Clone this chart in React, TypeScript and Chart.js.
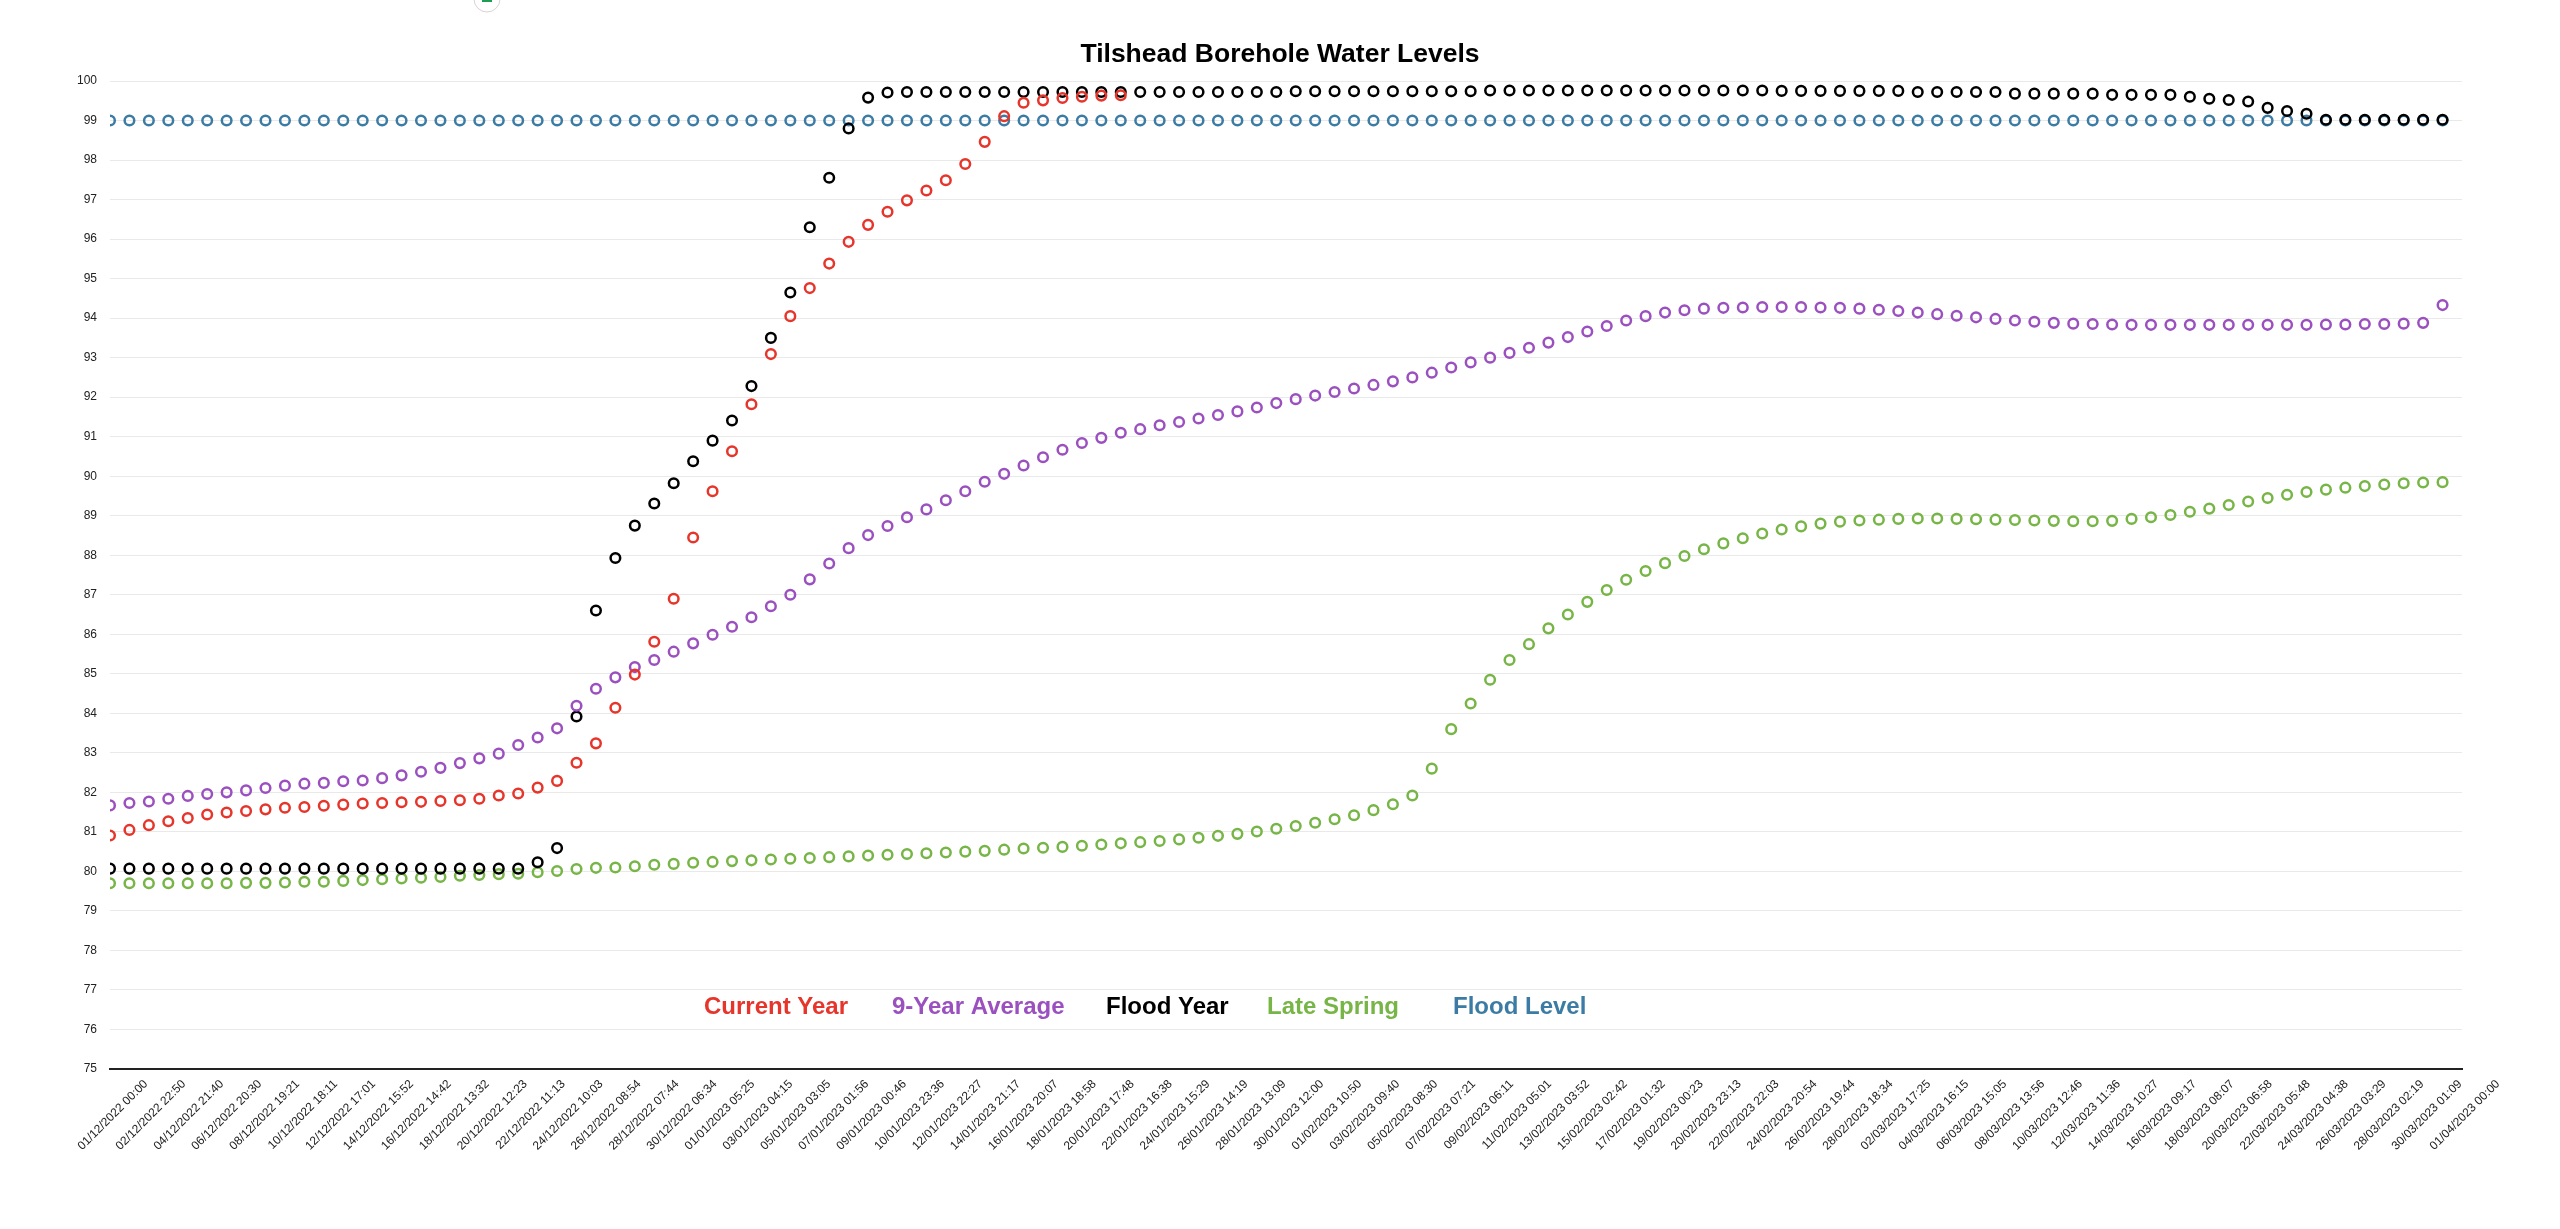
import { useEffect, useRef } from 'react';
import { Chart, registerables } from 'chart.js';

Chart.register(...registerables);

const chartTitle = 'Tilshead Borehole Water Levels';
const seriesNames = ['Current Year', '9-Year Average', 'Flood Year', 'Late Spring', 'Flood Level'];
const seriesColors = ['#e6352b', '#9b50bf', '#000000', '#77b546', '#3c7ca4'];

// one value per day, starting 01/12/2022
const currentYear = [
  80.91, 81.05, 81.17, 81.27, 81.35, 81.44, 81.49, 81.53, 81.57, 81.61,
  81.63, 81.66, 81.69, 81.72, 81.73, 81.75, 81.76, 81.78, 81.80, 81.84,
  81.92, 81.97, 82.12, 82.29, 82.75, 83.24, 84.14, 84.98, 85.81, 86.90,
  88.45, 89.62, 90.63, 91.82, 93.09, 94.05, 94.76, 95.38, 95.93, 96.36,
  96.69, 96.98, 97.23, 97.49, 97.90, 98.46, 99.11, 99.45, 99.51, 99.57,
  99.60, 99.63, 99.64,
];

const nineYearAverage = [
  81.67, 81.73, 81.77, 81.84, 81.91, 81.96, 82.00, 82.05, 82.11, 82.17,
  82.22, 82.24, 82.28, 82.30, 82.36, 82.43, 82.52, 82.62, 82.74, 82.86,
  82.98, 83.20, 83.39, 83.62, 84.19, 84.62, 84.91, 85.17, 85.35, 85.56,
  85.77, 85.99, 86.19, 86.43, 86.71, 87.00, 87.39, 87.79, 88.18, 88.51,
  88.74, 88.96, 89.16, 89.39, 89.62, 89.86, 90.06, 90.27, 90.48, 90.67,
  90.84, 90.97, 91.10, 91.19, 91.29, 91.37, 91.46, 91.55, 91.64, 91.74,
  91.85, 91.95, 92.04, 92.13, 92.22, 92.31, 92.40, 92.50, 92.62, 92.75,
  92.88, 93.00, 93.12, 93.25, 93.38, 93.52, 93.66, 93.80, 93.94, 94.05,
  94.14, 94.20, 94.24, 94.26, 94.27, 94.28, 94.28, 94.28, 94.27, 94.26,
  94.24, 94.21, 94.18, 94.14, 94.10, 94.06, 94.02, 93.98, 93.94, 93.91,
  93.88, 93.86, 93.85, 93.84, 93.83, 93.83, 93.83, 93.83, 93.83, 93.83,
  93.83, 93.83, 93.83, 93.83, 93.84, 93.84, 93.85, 93.85, 93.86, 93.88,
  94.33,
];

const floodYear = [
  80.07, 80.07, 80.07, 80.07, 80.07, 80.07, 80.07, 80.07, 80.07, 80.07,
  80.07, 80.07, 80.07, 80.07, 80.07, 80.07, 80.07, 80.07, 80.07, 80.07,
  80.07, 80.07, 80.23, 80.59, 83.92, 86.60, 87.93, 88.75, 89.31, 89.82,
  90.38, 90.90, 91.41, 92.28, 93.50, 94.65, 96.30, 97.55, 98.80, 99.58,
  99.71, 99.72, 99.72, 99.72, 99.72, 99.72, 99.72, 99.72, 99.72, 99.72,
  99.72, 99.72, 99.72, 99.72, 99.72, 99.72, 99.72, 99.72, 99.72, 99.72,
  99.72, 99.74, 99.74, 99.74, 99.74, 99.74, 99.74, 99.74, 99.74, 99.74,
  99.74, 99.76, 99.76, 99.76, 99.76, 99.76, 99.76, 99.76, 99.76, 99.76,
  99.76, 99.76, 99.76, 99.76, 99.76, 99.76, 99.75, 99.75, 99.75, 99.75,
  99.75, 99.75, 99.75, 99.72, 99.72, 99.72, 99.72, 99.72, 99.68, 99.68,
  99.68, 99.68, 99.68, 99.65, 99.65, 99.65, 99.65, 99.60, 99.55, 99.52,
  99.48, 99.32, 99.24, 99.17, 99.02, 99.02, 99.02, 99.02, 99.02, 99.02,
  99.02,
];

const lateSpring = [
  79.70, 79.70, 79.70, 79.70, 79.70, 79.70, 79.70, 79.71, 79.71, 79.72,
  79.74, 79.74, 79.76, 79.78, 79.80, 79.82, 79.84, 79.86, 79.89, 79.91,
  79.93, 79.94, 79.98, 80.01, 80.06, 80.09, 80.10, 80.13, 80.17, 80.19,
  80.22, 80.24, 80.26, 80.28, 80.30, 80.32, 80.34, 80.36, 80.38, 80.40,
  80.42, 80.44, 80.46, 80.48, 80.50, 80.52, 80.55, 80.58, 80.60, 80.62,
  80.65, 80.68, 80.71, 80.74, 80.77, 80.81, 80.85, 80.90, 80.95, 81.01,
  81.08, 81.15, 81.23, 81.32, 81.42, 81.55, 81.70, 81.92, 82.60, 83.60,
  84.25, 84.85, 85.35, 85.75, 86.15, 86.50, 86.82, 87.12, 87.38, 87.60,
  87.80, 87.98, 88.15, 88.30, 88.43, 88.55, 88.65, 88.73, 88.80, 88.85,
  88.88, 88.90, 88.92, 88.93, 88.93, 88.92, 88.91, 88.90, 88.89, 88.88,
  88.87, 88.86, 88.86, 88.87, 88.92, 88.96, 89.02, 89.10, 89.18, 89.27,
  89.36, 89.45, 89.53, 89.60, 89.66, 89.71, 89.75, 89.79, 89.82, 89.84,
  89.85,
];

const floodLevel = [
  99, 99, 99, 99, 99, 99, 99, 99, 99, 99, 99, 99, 99, 99, 99, 99, 99, 99, 99, 99,
  99, 99, 99, 99, 99, 99, 99, 99, 99, 99, 99, 99, 99, 99, 99, 99, 99, 99, 99, 99,
  99, 99, 99, 99, 99, 99, 99, 99, 99, 99, 99, 99, 99, 99, 99, 99, 99, 99, 99, 99,
  99, 99, 99, 99, 99, 99, 99, 99, 99, 99, 99, 99, 99, 99, 99, 99, 99, 99, 99, 99,
  99, 99, 99, 99, 99, 99, 99, 99, 99, 99, 99, 99, 99, 99, 99, 99, 99, 99, 99, 99,
  99, 99, 99, 99, 99, 99, 99, 99, 99, 99, 99, 99, 99, 99, 99, 99, 99, 99, 99, 99,
  99,
];

const xTickLabels = [
  '01/12/2022 00:00', '02/12/2022 22:50', '04/12/2022 21:40', '06/12/2022 20:30',
  '08/12/2022 19:21', '10/12/2022 18:11', '12/12/2022 17:01', '14/12/2022 15:52',
  '16/12/2022 14:42', '18/12/2022 13:32', '20/12/2022 12:23', '22/12/2022 11:13',
  '24/12/2022 10:03', '26/12/2022 08:54', '28/12/2022 07:44', '30/12/2022 06:34',
  '01/01/2023 05:25', '03/01/2023 04:15', '05/01/2023 03:05', '07/01/2023 01:56',
  '09/01/2023 00:46', '10/01/2023 23:36', '12/01/2023 22:27', '14/01/2023 21:17',
  '16/01/2023 20:07', '18/01/2023 18:58', '20/01/2023 17:48', '22/01/2023 16:38',
  '24/01/2023 15:29', '26/01/2023 14:19', '28/01/2023 13:09', '30/01/2023 12:00',
  '01/02/2023 10:50', '03/02/2023 09:40', '05/02/2023 08:30', '07/02/2023 07:21',
  '09/02/2023 06:11', '11/02/2023 05:01', '13/02/2023 03:52', '15/02/2023 02:42',
  '17/02/2023 01:32', '19/02/2023 00:23', '20/02/2023 23:13', '22/02/2023 22:03',
  '24/02/2023 20:54', '26/02/2023 19:44', '28/02/2023 18:34', '02/03/2023 17:25',
  '04/03/2023 16:15', '06/03/2023 15:05', '08/03/2023 13:56', '10/03/2023 12:46',
  '12/03/2023 11:36', '14/03/2023 10:27', '16/03/2023 09:17', '18/03/2023 08:07',
  '20/03/2023 06:58', '22/03/2023 05:48', '24/03/2023 04:38', '26/03/2023 03:29',
  '28/03/2023 02:19', '30/03/2023 01:09', '01/04/2023 00:00',
];

const xDaysSpan = 121; // 01/12/2022 -> 01/04/2023
const yMin = 75;
const yMax = 100;

const FONT = '"Liberation Sans", Arial, Helvetica, sans-serif';

const overlayPlugin = {
  id: 'overlay',
  afterDraw(chart: any) {
    const ctx = chart.ctx as CanvasRenderingContext2D;
    ctx.save();
    // small floating icon at the top edge
    ctx.beginPath();
    ctx.arc(487, -1, 13, 0, Math.PI * 2);
    ctx.fillStyle = '#ffffff';
    ctx.fill();
    ctx.lineWidth = 1;
    ctx.strokeStyle = '#d9d2d2';
    ctx.stroke();
    ctx.fillStyle = '#1f9d55';
    ctx.fillRect(482, -4, 10, 6);

    // title
    ctx.font = `bold 26.5px ${FONT}`;
    ctx.fillStyle = '#000000';
    ctx.textAlign = 'center';
    ctx.textBaseline = 'alphabetic';
    ctx.fillText(chartTitle, chart.width / 2, 62);

    // legend (text only, inside the plot)
    ctx.font = `bold 24px ${FONT}`;
    ctx.textAlign = 'left';
    ctx.textBaseline = 'middle';
    const ly = chart.scales.y.getPixelForValue(76.55);
    const legendX = [704, 892, 1106, 1267, 1453];
    seriesNames.forEach((name, i) => {
      ctx.fillStyle = seriesColors[i];
      ctx.fillText(name, legendX[i], ly);
    });
    ctx.restore();
  },
};

function toPoints(values: number[]) {
  return values.map((y, i) => ({ x: i, y }));
}

export default function App() {
  const canvasRef = useRef<HTMLCanvasElement | null>(null);

  useEffect(() => {
    document.body.style.margin = '0';
    document.body.style.background = '#ffffff';
    const canvas = canvasRef.current;
    if (!canvas) return;
    const allSeries = [currentYear, nineYearAverage, floodYear, lateSpring, floodLevel];
    const chart = new Chart(canvas, {
      type: 'scatter',
      data: {
        datasets: allSeries.map((vals, i) => ({
          label: seriesNames[i],
          data: toPoints(vals),
          showLine: false,
          pointRadius: 4.8,
          pointHoverRadius: 4.8,
          pointBorderWidth: 2.5,
          borderColor: seriesColors[i],
          pointBorderColor: seriesColors[i],
          backgroundColor: 'rgba(0,0,0,0)',
          pointBackgroundColor: 'rgba(0,0,0,0)',
        })),
      },
      options: {
        responsive: false,
        animation: false,
        events: [],
        devicePixelRatio: 1,
        layout: { padding: { top: 81, left: 0, right: 98, bottom: 0 } },
        plugins: {
          legend: { display: false },
          title: { display: false },
          tooltip: { enabled: false },
        },
        scales: {
          x: {
            type: 'linear',
            position: 'bottom',
            min: 0,
            max: xDaysSpan,
            grid: { display: false, drawTicks: false },
            border: { display: true, color: '#222222', width: 2 },
            afterBuildTicks: (scale: any) => {
              const n = xTickLabels.length - 1;
              scale.ticks = xTickLabels.map((_, k) => ({ value: (k * xDaysSpan) / n }));
            },
            afterFit: (scale: any) => {
              scale.height = 160;
            },
            ticks: {
              autoSkip: false,
              maxRotation: 45,
              minRotation: 45,
              labelOffset: 36,
              padding: 8,
              color: '#222222',
              font: { family: FONT, size: 12 },
              callback: (_v: any, index: number) => xTickLabels[index],
            },
          },
          y: {
            type: 'linear',
            min: yMin,
            max: yMax,
            grid: { color: '#e9e9e9', lineWidth: 1, drawTicks: false },
            border: { display: false },
            afterFit: (scale: any) => {
              scale.width = 110;
            },
            ticks: {
              stepSize: 1,
              padding: 13,
              color: '#222222',
              font: { family: FONT, size: 12 },
            },
          },
        },
      },
      plugins: [overlayPlugin],
    } as any);
    return () => chart.destroy();
  }, []);

  return (
    <div style={{ width: 2560, height: 1229, background: '#ffffff' }}>
      <canvas ref={canvasRef} width={2560} height={1229} style={{ display: 'block' }} />
    </div>
  );
}
